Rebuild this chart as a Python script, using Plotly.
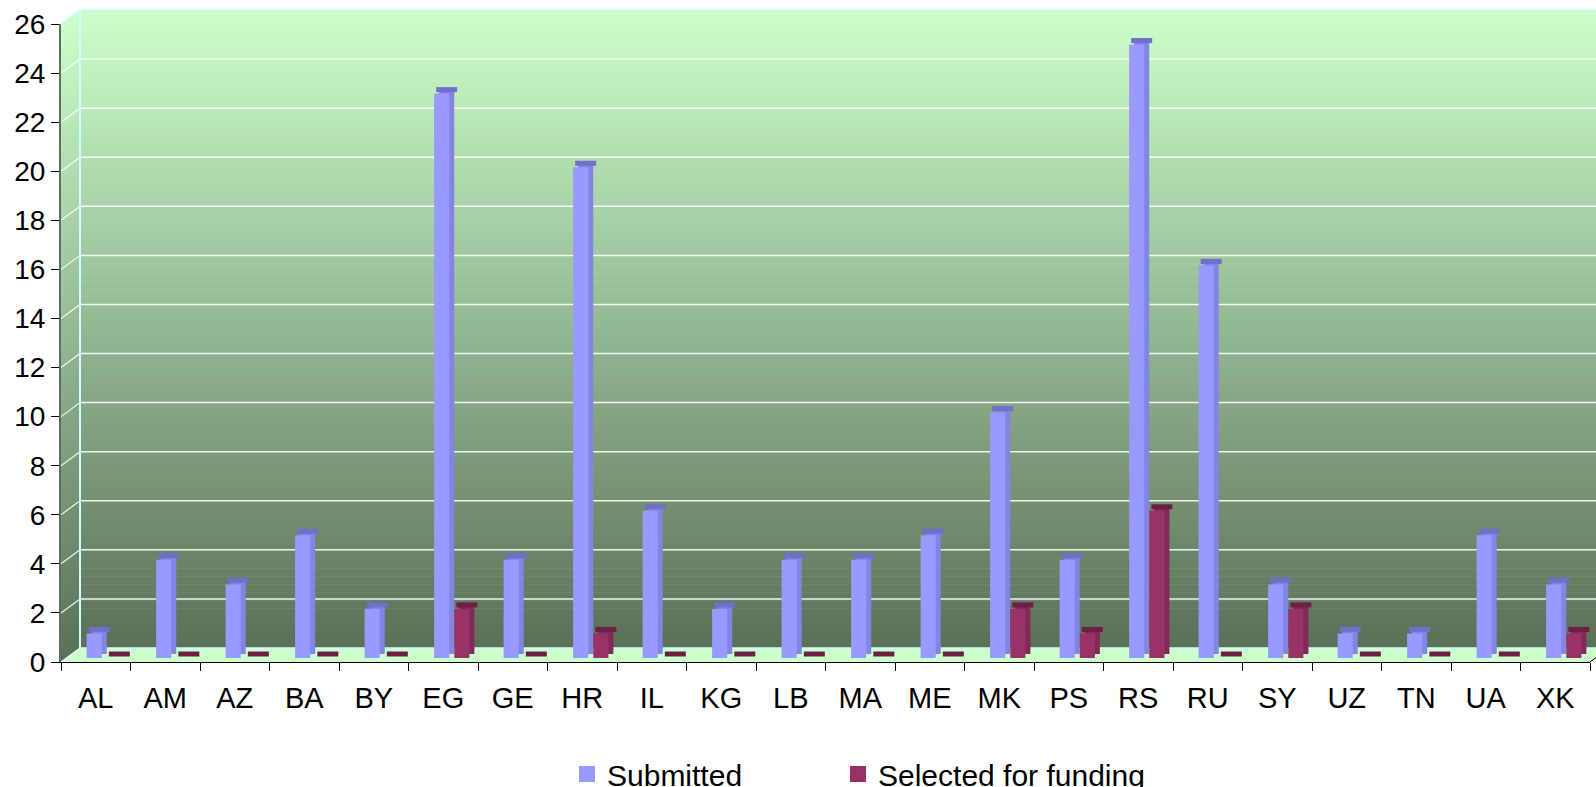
import plotly.graph_objects as go

# ---------------- data ----------------
countries = ["AL", "AM", "AZ", "BA", "BY", "EG", "GE", "HR", "IL", "KG", "LB",
             "MA", "ME", "MK", "PS", "RS", "RU", "SY", "UZ", "TN", "UA", "XK"]
submitted = [1, 4, 3, 5, 2, 23, 4, 20, 6, 2, 4, 4, 5, 10, 4, 25, 16, 3, 1, 1, 5, 3]
selected = [0, 0, 0, 0, 0, 2, 0, 1, 0, 0, 0, 0, 0, 2, 1, 6, 0, 2, 0, 0, 0, 1]
y_ticks = list(range(0, 27, 2))
series_names = ["Submitted", "Selected for funding"]

# ---------------- geometry / style ----------------
W, H = 1596, 787
L, R, T, B = 61, 1590, 24, 662          # front plot frame in pixels
PW, PH = R - L, B - T
YMAX = 26
DX, DY = 19, 14                          # 3-D depth offset of the back wall
FRONT_DX, FRONT_DY = 8.5, 4              # bar front faces
BACK_DX, BACK_DY = 13.5, 8               # bar back faces (3-D depth)

def px(x):
    return (x - L) / PW

def py(y):
    return (B - y) / PH

def v2pix(v):
    return B - v / YMAX * PH

TOP_RGB = (204, 255, 204)
BOT_RGB = (90, 112, 88)

def grad(f):
    c = [round(TOP_RGB[i] + (BOT_RGB[i] - TOP_RGB[i]) * f) for i in range(3)]
    return f"rgb({c[0]},{c[1]},{c[2]})"

shapes = []
N = 80
back_top, back_bot = T - DY, B - DY
for k in range(N):
    y0 = back_top + (back_bot - back_top) * k / N
    y1 = back_top + (back_bot - back_top) * (k + 1) / N
    col = grad((k + 0.5) / N)
    shapes.append(dict(type="rect", xref="paper", yref="paper",
                       x0=px(L + DX), x1=px(W + 5), y0=py(y1 + 0.6), y1=py(y0),
                       fillcolor=col, line=dict(width=0), layer="below"))
    path = (f"M {px(L)} {py(y0 + DY)} L {px(L + DX)} {py(y0)} "
            f"L {px(L + DX)} {py(y1 + 0.6)} L {px(L)} {py(y1 + DY + 0.6)} Z")
    shapes.append(dict(type="path", xref="paper", yref="paper", path=path,
                       fillcolor=col, line=dict(width=0), layer="below"))

# floor
floor = (f"M {px(L)} {py(B)} L {px(R)} {py(B)} L {px(R + DX)} {py(B - DY)} "
         f"L {px(L + DX)} {py(B - DY)} Z")
shapes.append(dict(type="path", xref="paper", yref="paper", path=floor,
                   fillcolor="#CCFFCC", line=dict(width=0), layer="below"))

# gridlines: back wall + side wall diagonals
for v in y_ticks[1:]:
    yf = v2pix(v)
    shapes.append(dict(type="line", xref="paper", yref="paper",
                       x0=px(L + DX), x1=px(W + 5), y0=py(yf - DY), y1=py(yf - DY),
                       line=dict(color="rgba(255,255,255,0.9)", width=1.5), layer="below"))
    shapes.append(dict(type="line", xref="paper", yref="paper",
                       x0=px(L), x1=px(L + DX), y0=py(yf), y1=py(yf - DY),
                       line=dict(color="rgba(255,255,255,0.9)", width=1.2), layer="below"))
v0 = v2pix(0)
shapes.append(dict(type="line", xref="paper", yref="paper",
                   x0=px(L), x1=px(L + DX), y0=py(v0), y1=py(v0 - DY),
                   line=dict(color="rgba(255,255,255,0.9)", width=1.2), layer="below"))
# cyan wall edges
edge = "#CCFFFF"
shapes.append(dict(type="line", xref="paper", yref="paper",
                   x0=px(L + DX), x1=px(L + DX), y0=py(B - DY), y1=py(T - DY),
                   line=dict(color=edge, width=2), layer="below"))
shapes.append(dict(type="line", xref="paper", yref="paper",
                   x0=px(L + DX), x1=px(W + 5), y0=py(T - DY), y1=py(T - DY),
                   line=dict(color=edge, width=2), layer="below"))
shapes.append(dict(type="line", xref="paper", yref="paper",
                   x0=px(L), x1=px(L + DX), y0=py(T), y1=py(T - DY),
                   line=dict(color=edge, width=2), layer="below"))
shapes.append(dict(type="line", xref="paper", yref="paper",
                   x0=px(L + DX), x1=px(R + DX), y0=py(B - DY), y1=py(B - DY),
                   line=dict(color=edge, width=1.5), layer="below"))
shapes.append(dict(type="line", xref="paper", yref="paper",
                   x0=px(R), x1=px(R + DX), y0=py(B), y1=py(B - DY),
                   line=dict(color="#000000", width=1), layer="above"))

fig = go.Figure()

BARGAP = 0.42
GROUPGAP = 0.25
sub_col, sub_side, sub_top = "#9999FF", "#8484E3", "#7070CC"
sel_col, sel_side, sel_top = "#993366", "#82295A", "#6B1F45"

# back faces (depth) on x2/y2
fig.add_trace(go.Bar(x=countries, y=submitted, showlegend=False, hoverinfo="skip",
                     marker=dict(color=sub_side, line=dict(width=0)),
                     xaxis="x2", yaxis="y2"))
fig.add_trace(go.Bar(x=countries, y=selected, showlegend=False, hoverinfo="skip",
                     marker=dict(color=sel_side, line=dict(width=0)),
                     xaxis="x2", yaxis="y2"))
# top faces
fig.add_trace(go.Scatter(x=countries, y=submitted, mode="markers", showlegend=False,
                         hoverinfo="skip", xaxis="x2", yaxis="y2",
                         marker=dict(symbol="line-ew", size=15,
                                     line=dict(color=sub_top, width=5))))
fig.add_trace(go.Scatter(x=countries, y=selected, mode="markers", showlegend=False,
                         hoverinfo="skip", xaxis="x2", yaxis="y2",
                         marker=dict(symbol="line-ew", size=15,
                                     line=dict(color=sel_top, width=5))))
# front faces on x3/y3
fig.add_trace(go.Bar(x=countries, y=submitted, name=series_names[0], showlegend=False,
                     marker=dict(color=sub_col, line=dict(width=0)),
                     xaxis="x3", yaxis="y3"))
fig.add_trace(go.Bar(x=countries, y=selected, name=series_names[1], showlegend=False,
                     marker=dict(color=sel_col, line=dict(width=0)),
                     xaxis="x3", yaxis="y3"))
# legend entries (square swatches)
fig.add_trace(go.Scatter(x=[None], y=[None], mode="markers", name=series_names[0],
                         marker=dict(symbol="square", size=16, color=sub_col),
                         legend="legend", hoverinfo="skip"))
fig.add_trace(go.Scatter(x=[None], y=[None], mode="markers", name=series_names[1],
                         marker=dict(symbol="square", size=16, color=sel_col),
                         legend="legend2", hoverinfo="skip"))
# invisible trace on primary axes to carry the category axis
fig.add_trace(go.Scatter(x=countries, y=[None] * len(countries), showlegend=False,
                         hoverinfo="skip", mode="markers"))

slot = PW / len(countries)
unit = PH / YMAX
n = len(countries)

def xr(dx):
    return [-0.5 - dx / slot, n - 0.5 - dx / slot]

def yr(dy):
    return [-dy / unit, YMAX - dy / unit]

font = "Liberation Sans, Arial, sans-serif"
leg_common = dict(orientation="h", xref="container", yref="container",
                  xanchor="left", y=(H - 774) / H, yanchor="middle",
                  font=dict(size=30, family=font), bgcolor="rgba(0,0,0,0)",
                  itemclick=False, itemdoubleclick=False)
cat = dict(type="category", categoryorder="array", categoryarray=countries)
fig.update_layout(
    width=W, height=H,
    margin=dict(l=L, r=W - R, t=T, b=H - B, autoexpand=False),
    paper_bgcolor="white",
    plot_bgcolor="rgba(0,0,0,0)",
    barmode="group", bargap=BARGAP, bargroupgap=GROUPGAP,
    scattermode="group", scattergap=BARGAP,
    shapes=shapes,
    font=dict(family=font, color="black"),
    xaxis=dict(**cat, range=[-0.5, n - 0.5],
               showline=True, linecolor="black", linewidth=1,
               ticks="outside", tickson="boundaries", ticklen=8, tickcolor="black",
               tickfont=dict(size=29, family=font), ticklabelstandoff=10,
               showgrid=False, zeroline=False, fixedrange=True),
    yaxis=dict(range=[0, YMAX], tickvals=y_ticks, showline=True,
               linecolor="#5C6E66", linewidth=2,
               ticks="outside", ticklen=8, tickcolor="black",
               tickfont=dict(size=28, family=font), ticklabelstandoff=0,
               showgrid=False, zeroline=False, fixedrange=True),
    xaxis2=dict(**cat, overlaying="x", range=xr(BACK_DX), visible=False, fixedrange=True),
    yaxis2=dict(overlaying="y", range=yr(BACK_DY), visible=False, fixedrange=True),
    xaxis3=dict(**cat, overlaying="x", range=xr(FRONT_DX), visible=False, fixedrange=True),
    yaxis3=dict(overlaying="y", range=yr(FRONT_DY), visible=False, fixedrange=True),
    legend=dict(x=567 / W, **leg_common),
    legend2=dict(x=838 / W, **leg_common),
    showlegend=True,
)

fig.write_html("out.html", config={"displayModeBar": False},
               post_script="document.body.style.margin='0';document.body.style.overflow='hidden';")
